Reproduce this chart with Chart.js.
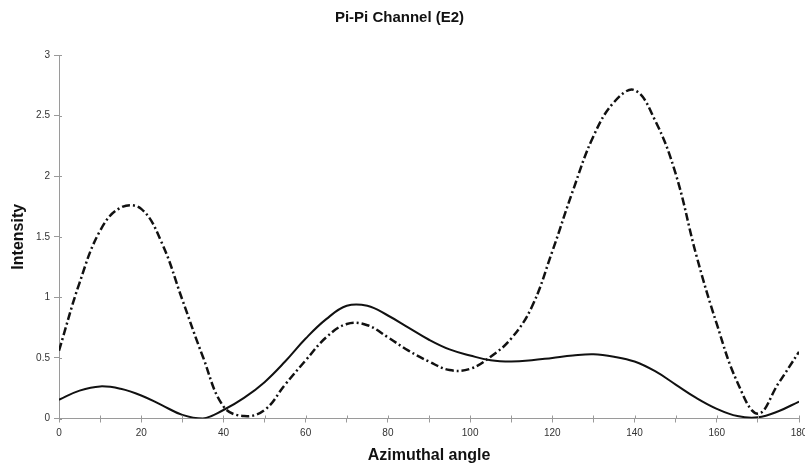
<!DOCTYPE html>
<html>
<head>
<meta charset="utf-8">
<script src="https://cdn.jsdelivr.net/npm/chart.js@4/dist/chart.umd.min.js"></script>
<style>
  html, body { margin: 0; padding: 0; background: #fff; }
  #wrap { width: 805px; height: 467px; }
</style>
</head>
<body>
<div id="wrap"><canvas id="c" width="805" height="467"></canvas></div>
<script>
// ---- data ----
const angles = [0,5,10,15,20,25,30,35,40,45,50,55,60,65,70,75,80,85,90,95,100,105,110,115,120,125,130,135,140,145,150,155,160,165,170,175,180];
const solidSeries = [0.155,0.23,0.265,0.245,0.19,0.11,0.03,0.0,0.07,0.17,0.30,0.47,0.66,0.82,0.93,0.93,0.85,0.75,0.65,0.57,0.52,0.48,0.47,0.48,0.50,0.52,0.53,0.51,0.47,0.39,0.28,0.17,0.08,0.02,0.01,0.06,0.14];
const dashDotSeries = [0.56,1.12,1.55,1.74,1.73,1.45,0.98,0.51,0.10,0.02,0.07,0.28,0.48,0.67,0.78,0.77,0.67,0.56,0.47,0.40,0.41,0.51,0.66,0.92,1.38,1.88,2.33,2.61,2.71,2.46,2.02,1.35,0.78,0.30,0.04,0.29,0.55];
const xTickLabels = ['0','20','40','60','80','100','120','140','160','180'];
const yTickLabels = ['0','0.5','1','1.5','2','2.5','3'];
const titleText = 'Pi-Pi Channel (E2)';
const xTitle = 'Azimuthal angle';
const yTitle = 'Intensity';

const toPts = (xs, ys) => xs.map((x, i) => ({ x: x, y: ys[i] }));

// draw tick marks that cross the axis line (inner part)
const innerTicks = {
  id: 'innerTicks',
  afterDraw(chart) {
    const ctx = chart.ctx;
    const xs = chart.scales.x, ys = chart.scales.y;
    ctx.save();
    ctx.strokeStyle = '#9a9a9a';
    ctx.lineWidth = 1;
    ctx.beginPath();
    xs.ticks.forEach(t => {
      const px = Math.round(xs.getPixelForValue(t.value)) + 0.5;
      ctx.moveTo(px, xs.top); ctx.lineTo(px, xs.top - 3);
    });
    ys.ticks.forEach(t => {
      const py = Math.round(ys.getPixelForValue(t.value)) + 0.5;
      ctx.moveTo(ys.right, py); ctx.lineTo(ys.right + 3, py);
    });
    ctx.stroke();
    ctx.restore();
  }
};

const tickFont = { family: 'Liberation Sans, Arial, sans-serif', size: 10 };

new Chart(document.getElementById('c'), {
  type: 'line',
  data: {
    datasets: [
      {
        label: 'solid',
        data: toPts(angles, solidSeries),
        borderColor: '#111',
        borderWidth: 2,
        pointRadius: 0,
        tension: 0.4,
        fill: false
      },
      {
        label: 'dash-dot',
        data: toPts(angles, dashDotSeries),
        borderColor: '#111',
        borderWidth: 2.5,
        borderDash: [8, 3, 2, 3],
        pointRadius: 0,
        tension: 0.4,
        fill: false
      }
    ]
  },
  options: {
    responsive: false,
    animation: false,
    devicePixelRatio: 1,
    layout: { padding: { left: 0, right: 6, top: 0, bottom: 0 } },
    plugins: {
      legend: { display: false },
      tooltip: { enabled: false },
      title: {
        display: true,
        text: titleText,
        color: '#111',
        font: { family: 'Liberation Sans, Arial, sans-serif', size: 15, weight: 'bold' },
        padding: { top: 9, bottom: 28 }
      }
    },
    scales: {
      x: {
        type: 'linear',
        min: 0, max: 180,
        afterFit: s => { s.height = 48.5; s.paddingLeft = 0; s.paddingRight = 0; },
        border: { display: true, color: '#9a9a9a', width: 1 },
        grid: { display: true, drawOnChartArea: false, drawTicks: true, tickLength: 4, color: '#9a9a9a' },
        ticks: {
          stepSize: 10,
          maxRotation: 0,
          autoSkip: false,
          color: '#333',
          font: tickFont,
          padding: 5,
          callback: v => (xTickLabels.includes(String(v)) ? String(v) : '')
        },
        title: {
          display: true,
          text: xTitle,
          color: '#111',
          font: { family: 'Liberation Sans, Arial, sans-serif', size: 16, weight: 'bold' },
          padding: { top: 0, bottom: 1.5 }
        }
      },
      y: {
        min: 0, max: 3,
        afterFit: s => { s.width = 59; s.paddingTop = 0; s.paddingBottom = 0; },
        border: { display: true, color: '#9a9a9a', width: 1 },
        grid: { display: true, drawOnChartArea: false, drawTicks: true, tickLength: 5, color: '#9a9a9a' },
        ticks: {
          stepSize: 0.5,
          color: '#333',
          font: tickFont,
          padding: 4,
          callback: v => { const s = String(v); return yTickLabels.includes(s) ? s : ''; }
        },
        title: {
          display: true,
          text: yTitle,
          color: '#111',
          font: { family: 'Liberation Sans, Arial, sans-serif', size: 16, weight: 'bold' },
          padding: { top: 9, bottom: 0 }
        }
      }
    }
  },
  plugins: [innerTicks]
});
</script>
</body>
</html>
